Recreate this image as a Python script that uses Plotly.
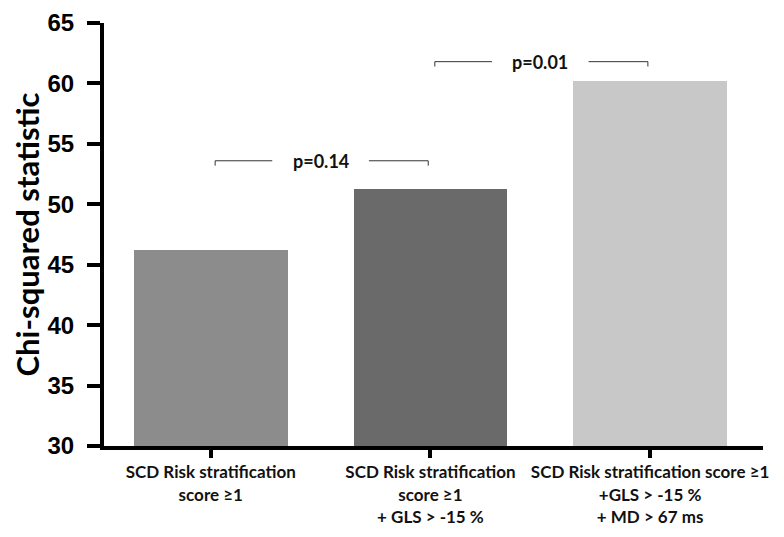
import plotly.graph_objects as go

categories = [
    "SCD Risk stratification<br>score ≥1",
    "SCD Risk stratification<br>score ≥1<br>+ GLS > -15 %",
    "SCD Risk stratification score ≥1<br>+GLS > -15 %<br>+ MD > 67 ms",
]
chi_squared = [46.2, 51.3, 60.2]
bar_colors = ["#8c8c8c", "#6a6a6a", "#c8c8c8"]

comparisons = [(0, 1), (1, 2)]
p_labels = ["p=0.14", "p=0.01"]
bracket_levels = [53.6, 61.8]

y_ticks = [30, 35, 40, 45, 50, 55, 60, 65]

x_pos = list(range(len(categories)))

fig = go.Figure()
fig.add_trace(go.Bar(
    x=x_pos, y=chi_squared, width=0.70,
    marker=dict(color=bar_colors, line=dict(width=0)),
    showlegend=False, hoverinfo="skip",
))

line_style = dict(color="#333333", width=1)
shapes = []
annotations = []
for (a, b), lab, lvl in zip(comparisons, p_labels, bracket_levels):
    x0 = a + 0.02
    x1 = b - 0.01
    mid = (a + b) / 2
    gap = 0.22
    drop = 0.4
    shapes += [
        dict(type="line", xref="x", yref="y", x0=x0, x1=mid - gap, y0=lvl, y1=lvl, line=line_style),
        dict(type="line", xref="x", yref="y", x0=mid + gap, x1=x1, y0=lvl, y1=lvl, line=line_style),
        dict(type="line", xref="x", yref="y", x0=x0, x1=x0, y0=lvl, y1=lvl - drop, line=line_style),
        dict(type="line", xref="x", yref="y", x0=x1, x1=x1, y0=lvl, y1=lvl - drop, line=line_style),
    ]
    annotations.append(dict(
        x=mid, y=lvl, xref="x", yref="y", text=lab, showarrow=False,
        font=dict(family="Lato", size=18, color="#111111", weight="bold"),
        xanchor="center", yanchor="middle",
    ))

fig.update_layout(
    width=776, height=529,
    margin=dict(l=96, r=21, t=15, b=91),
    paper_bgcolor="white", plot_bgcolor="white",
    shapes=shapes, annotations=annotations,
    bargap=0,
)
fig.update_xaxes(
    range=[-0.486, 2.514],
    tickvals=x_pos, ticktext=categories,
    showline=True, linewidth=4, linecolor="black",
    ticks="outside", ticklen=8, tickwidth=4, tickcolor="black",
    tickfont=dict(family="Lato", size=17, color="#111111", weight="bold"),
    showgrid=False, zeroline=False, automargin=False,
)
fig.update_yaxes(
    range=[30, 65], tickvals=y_ticks,
    showline=True, linewidth=4, linecolor="black",
    ticks="outside", ticklen=13, tickwidth=4, tickcolor="black",
    ticklabelstandoff=8, ticklabeloverflow="allow",
    tickfont=dict(family="Liberation Sans", size=24, color="black", weight="bold"),
    title=dict(text="Chi-squared statistic", standoff=14,
               font=dict(family="Lato", size=31, color="black", weight="bold")),
    showgrid=False, zeroline=False, automargin=False,
)

fig.write_html("out.html")
